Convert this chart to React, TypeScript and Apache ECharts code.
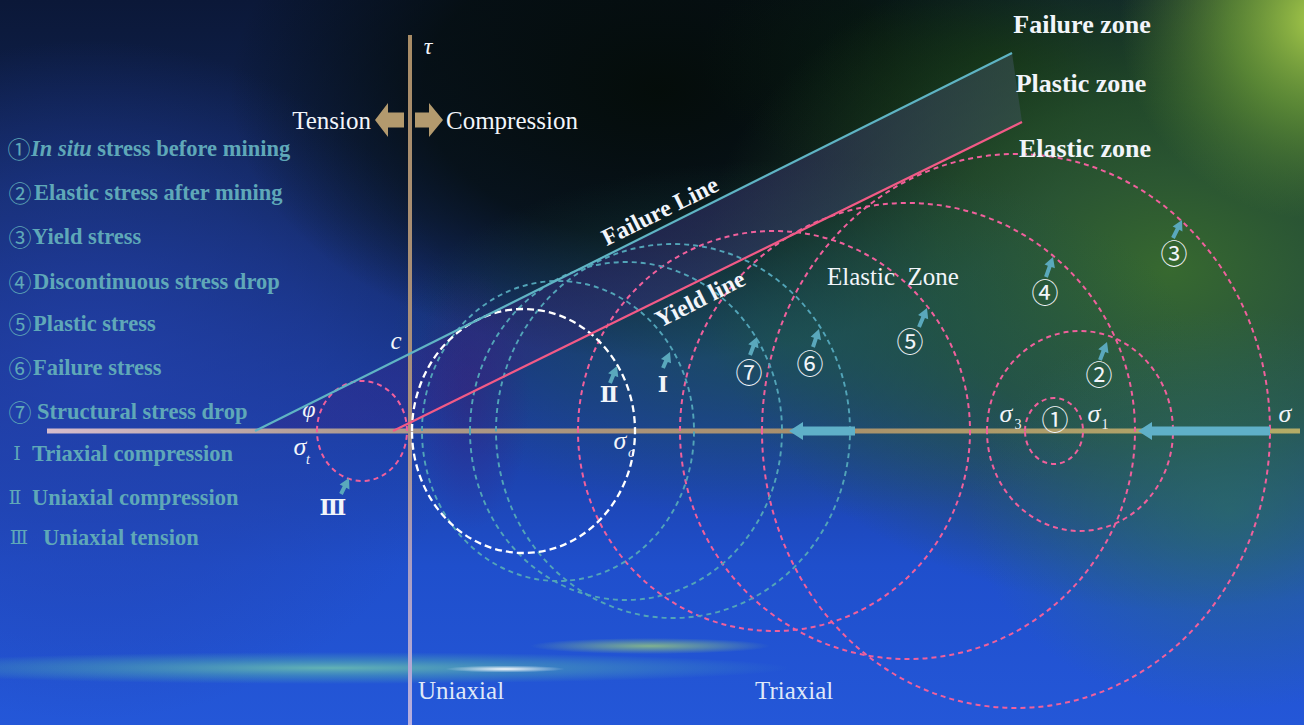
import React, { useEffect, useRef } from "react";
import * as echarts from "echarts";

// ---------------- data (drawing units: σ to the right, τ upwards, origin at the axes' crossing) -------------
const circleLabels = ["①", "②", "③", "④", "⑤", "⑥", "⑦", "Ⅰ", "Ⅱ", "Ⅲ"];
const circleCentres = [644, 670, 606, 497.5, 364, 263, 216, 148, 113.5, -48];
const circleRadiusSigma = [29, 93, 254, 227.5, 196, 177, 156, 136, 111.5, 45];
const circleRadiusTau = [33, 100, 277, 228, 200, 187, 169, 150, 122, 50];
const circleKinds = ["pink", "pink", "pink", "pink", "pink", "teal", "teal", "teal", "white", "pink"];

const failureLine = [[-155, 0], [602, 378]];
const yieldLine = [[-17, 0], [612, 309]];
const sigmaAxisLine = [[-363, 0], [890, 0]];
const tauAxisLine = [[0, 396], [0, -294]];
// [tail σ, head σ]
const stressDropArrows = [[445, 379], [860, 728]];

const legendMarks = ["①", "②", "③", "④", "⑤", "⑥", "⑦", "Ⅰ", "Ⅱ", "Ⅲ"];
const legendItalic = ["In situ", "", "", "", "", "", "", "", "", ""];
const legendTexts = [
  " stress before mining",
  "Elastic stress after mining",
  "Yield stress",
  "Discontinuous stress drop",
  "Plastic stress",
  "Failure stress",
  "Structural stress drop",
  "Triaxial compression",
  "Uniaxial compression",
  "Uniaxial tension",
];

const zoneLabels = ["Failure zone", "Plastic zone", "Elastic zone"];

// ---------------- styles ----------------
const SERIF = "'Liberation Serif', 'Times New Roman', serif";
const CJK = "'Noto Sans CJK SC', 'DejaVu Sans', sans-serif";
const ROMAN = "'DejaVu Serif', 'Noto Serif CJK SC', 'Noto Sans CJK SC', serif";
const circleStyles: Record<string, any> = {
  pink: { stroke: "#f0609c", lineWidth: 2, lineDash: [5, 4] },
  teal: { stroke: "#52a4b8", lineWidth: 1.9, lineDash: [5, 4] },
  white: { stroke: "#ffffff", lineWidth: 2.3, lineDash: [7, 4] },
};
const W = 1304;
const H = 725;

let measureCtx: CanvasRenderingContext2D | null = null;
function measure(text: string, font: string) {
  if (!measureCtx) measureCtx = document.createElement("canvas").getContext("2d");
  if (!measureCtx) return text.length * 10;
  measureCtx.font = font;
  return measureCtx.measureText(text).width;
}

function blockArrow(x1: number, y1: number, x2: number, y2: number, shaft: number, head: number, headLen: number) {
  const dx = x2 - x1, dy = y2 - y1;
  const L = Math.hypot(dx, dy);
  const ux = dx / L, uy = dy / L;
  const px = -uy, py = ux;
  const bx = x2 - ux * headLen, by = y2 - uy * headLen;
  return [
    [x1 + (px * shaft) / 2, y1 + (py * shaft) / 2],
    [bx + (px * shaft) / 2, by + (py * shaft) / 2],
    [bx + (px * head) / 2, by + (py * head) / 2],
    [x2, y2],
    [bx - (px * head) / 2, by - (py * head) / 2],
    [bx - (px * shaft) / 2, by - (py * shaft) / 2],
    [x1 - (px * shaft) / 2, y1 - (py * shaft) / 2],
  ];
}

const rg = (stops: [number, string][]) =>
  new echarts.graphic.RadialGradient(0.5, 0.5, 0.5, stops.map(([offset, color]) => ({ offset, color })));

function blob(cx: number, cy: number, rx: number, ry: number, stops: [number, string][], z = -90) {
  return { type: "ellipse", z, silent: true, shape: { cx, cy, rx, ry }, style: { fill: rg(stops) } };
}

function txt(x: number, y: number, text: string, o: any = {}) {
  return {
    type: "text",
    z: 100,
    x,
    y,
    rotation: o.rotation || 0,
    silent: true,
    style: {
      text,
      fill: o.color || "#f2f5fa",
      fontSize: o.size || 25,
      fontFamily: o.family || SERIF,
      fontWeight: o.weight || "normal",
      fontStyle: o.style || "normal",
      align: o.align || "center",
      verticalAlign: o.valign || "middle",
    },
  };
}

function buildOption() {
  const background = [
    {
      type: "rect",
      z: -100,
      silent: true,
      shape: { x: 0, y: 0, width: W, height: H },
      style: {
        fill: new echarts.graphic.LinearGradient(0, 0, 0, 1, [
          { offset: 0, color: "#0b1838" },
          { offset: 0.3, color: "#12275c" },
          { offset: 0.55, color: "#1a3a98" },
          { offset: 0.78, color: "#1f4fcc" },
          { offset: 1, color: "#2457d8" },
        ]),
      },
    },
    blob(90, 380, 380, 340, [[0, "rgba(36,66,175,0.75)"], [0.6, "rgba(36,66,175,0.4)"], [1, "rgba(36,66,175,0)"]]),
    blob(660, 90, 430, 270, [[0, "rgba(4,12,8,0.97)"], [0.55, "rgba(4,12,8,0.75)"], [1, "rgba(4,12,8,0)"]]),
    blob(1000, 60, 300, 140, [[0, "rgba(10,35,12,0.8)"], [1, "rgba(10,35,12,0)"]]),
    blob(1170, 270, 470, 340, [[0, "rgba(58,110,42,0.92)"], [0.5, "rgba(44,92,38,0.68)"], [1, "rgba(40,85,35,0)"]]),
    blob(1320, 20, 200, 200, [[0, "rgba(170,205,75,1)"], [0.45, "rgba(120,170,55,0.65)"], [1, "rgba(90,140,45,0)"]]),
    blob(790, 340, 400, 180, [[0, "rgba(30,90,72,0.65)"], [1, "rgba(30,90,72,0)"]]),
    blob(1230, 510, 260, 200, [[0, "rgba(45,115,100,0.6)"], [1, "rgba(45,115,100,0)"]]),
    blob(470, 400, 60, 130, [[0, "rgba(60,30,120,0.45)"], [1, "rgba(60,30,120,0)"]]),
    blob(330, 668, 460, 16, [[0, "rgba(120,210,170,0.75)"], [0.5, "rgba(90,190,170,0.4)"], [1, "rgba(90,190,170,0)"]]),
    blob(650, 646, 120, 8, [[0, "rgba(160,210,120,0.75)"], [1, "rgba(160,210,120,0)"]]),
    blob(505, 669, 60, 3.5, [[0, "rgba(255,255,255,0.95)"], [1, "rgba(255,255,255,0)"]]),
  ];

  const legendColor = "#5fa8b8";
  const legendY = [148, 192, 236, 281, 323, 367, 411, 453, 497, 537];
  const markX = [19, 20, 20, 20, 20, 20, 20, 17, 15, 19];
  const textX = [31, 34, 32, 33, 33, 33, 37, 32, 32, 43];
  const legend: any[] = [];
  legendTexts.forEach((t, i) => {
    legend.push(
      txt(markX[i], legendY[i], legendMarks[i], {
        family: i < 7 ? CJK : ROMAN,
        size: i < 7 ? 23 : 19,
        color: legendColor,
      })
    );
    let x = textX[i];
    if (legendItalic[i]) {
      legend.push(txt(x, legendY[i], legendItalic[i], { align: "left", size: 22.5, weight: "bold", style: "italic", color: legendColor }));
      x += measure(legendItalic[i], "italic bold 22.5px 'Liberation Serif'");
    }
    legend.push(txt(x, legendY[i], t, { align: "left", size: 22.5, weight: "bold", color: legendColor }));
  });

  const tan = "#b39a6e";
  const arrows = [
    { type: "polygon", z: 50, silent: true, shape: { points: blockArrow(404, 120, 375, 120, 15, 34, 13) }, style: { fill: tan } },
    { type: "polygon", z: 50, silent: true, shape: { points: blockArrow(415, 120, 443, 120, 15, 34, 14) }, style: { fill: tan } },
  ];
  const pointerPairs = [
    [341, 494, 349, 478],
    [610, 383, 617, 366],
    [663, 368, 670, 352],
    [750, 355, 757, 337],
    [813, 347, 819, 329],
    [919, 327, 927, 308],
    [1046, 277, 1053, 257],
    [1173, 238, 1182, 220],
    [1100, 360, 1107, 342],
  ];
  const pointers = pointerPairs.map((p) => ({
    type: "polygon",
    z: 60,
    silent: true,
    shape: { points: blockArrow(p[0], p[1], p[2], p[3], 4, 11, 10) },
    style: { fill: "#5aa8bc" },
  }));

  const numberPos: [string, number, number][] = [
    ["⑦", 749, 371],
    ["⑥", 810, 362],
    ["⑤", 910, 340],
    ["④", 1045, 291],
    ["③", 1174, 252],
    ["②", 1099, 373],
    ["①", 1055, 418],
  ];
  const numbers = numberPos.map(([t, x, y]) => txt(x, y, t, { family: CJK, size: 27 }));
  const romans = [
    txt(609, 394, "Ⅱ", { family: ROMAN, size: 22, weight: "bold" }),
    txt(663, 384, "Ⅰ", { family: ROMAN, size: 22, weight: "bold" }),
    txt(333, 507, "Ⅲ", { family: ROMAN, size: 22, weight: "bold" }),
  ];

  const it = { style: "italic", size: 26 };
  const labels = [
    txt(428, 46, "τ", { style: "italic", size: 24 }),
    txt(371, 120, "Tension", { align: "right", size: 25 }),
    txt(446, 120, "Compression", { align: "left", size: 25 }),
    txt(396, 340, "c", { style: "italic", size: 25 }),
    txt(309, 409, "φ", { style: "italic", size: 24 }),
    txt(300, 446, "σ", it),
    txt(308, 459, "t", { style: "italic", size: 14 }),
    txt(620, 440, "σ", it),
    txt(631, 452, "c", { style: "italic", size: 14 }),
    txt(1006, 413, "σ", it),
    txt(1018, 424, "3", { size: 14 }),
    txt(1094, 413, "σ", it),
    txt(1105, 424, "1", { size: 14 }),
    txt(1285, 413, "σ", it),
    txt(893, 276, "Elastic  Zone", { size: 25 }),
    txt(1082, 24, zoneLabels[0], { size: 26, weight: "bold" }),
    txt(1081, 83, zoneLabels[1], { size: 26, weight: "bold" }),
    txt(1085, 148, zoneLabels[2], { size: 26, weight: "bold" }),
    txt(660, 211, "Failure Line", { size: 24, weight: "bold", rotation: 0.46 }),
    txt(700, 299, "Yield line", { size: 24, weight: "bold", rotation: 0.47 }),
    txt(418, 690, "Uniaxial", { align: "left", size: 25, color: "#dfe8f8" }),
    txt(755, 690, "Triaxial", { align: "left", size: 25, color: "#dfe8f8" }),
  ];

  const circleData = circleCentres.map((c, i) => [c, circleRadiusSigma[i], circleRadiusTau[i]]);

  return {
    animation: false,
    backgroundColor: "#0b1733",
    grid: { left: 0, right: 0, top: 0, bottom: 0, containLabel: false },
    xAxis: { type: "value", min: -410, max: 894, show: false },
    yAxis: { type: "value", min: -294, max: 431, show: false },
    graphic: { elements: [...background, ...legend, ...arrows, ...pointers, ...numbers, ...romans, ...labels] },
    series: [
      {
        type: "custom",
        name: "plastic band",
        z: 1,
        silent: true,
        data: [[0]],
        renderItem: (_p: any, api: any) => {
          const pts = [failureLine[0], failureLine[1], yieldLine[1], yieldLine[0]].map((d) => api.coord(d));
          return {
            type: "polygon",
            shape: { points: pts },
            style: {
              fill: new echarts.graphic.LinearGradient(
                410, 0, 1020, 0,
                [
                  { offset: 0, color: "rgba(55,35,130,0.35)" },
                  { offset: 0.35, color: "rgba(55,42,125,0.45)" },
                  { offset: 1, color: "rgba(58,80,84,0.6)" },
                ],
                true
              ),
            },
          };
        },
      },
      {
        type: "line",
        name: "σ axis",
        z: 2,
        silent: true,
        symbol: "none",
        data: sigmaAxisLine,
        lineStyle: {
          width: 5,
          color: new echarts.graphic.LinearGradient(
            47, 0, 1300, 0,
            [
              { offset: 0, color: "#d6bccd" },
              { offset: 0.25, color: "#ad9a8e" },
              { offset: 0.6, color: "#a88f6c" },
              { offset: 1, color: "#b4ac66" },
            ],
            true
          ),
        },
      },
      {
        type: "line",
        name: "τ axis",
        z: 2,
        silent: true,
        symbol: "none",
        data: tauAxisLine,
        lineStyle: {
          width: 4,
          color: new echarts.graphic.LinearGradient(
            0, 35, 0, 725,
            [
              { offset: 0, color: "#a88c66" },
              { offset: 0.55, color: "#a89080" },
              { offset: 0.75, color: "#a89cc0" },
              { offset: 1, color: "#b6aee0" },
            ],
            true
          ),
        },
      },
      {
        type: "custom",
        name: "Mohr circles",
        z: 3,
        silent: true,
        data: circleData,
        renderItem: (p: any, api: any) => {
          const c = api.coord([api.value(0), 0]);
          const e = api.coord([api.value(0) + api.value(1), api.value(2)]);
          const st = circleStyles[circleKinds[p.dataIndex]];
          return {
            type: "ellipse",
            shape: { cx: c[0], cy: c[1], rx: Math.abs(e[0] - c[0]), ry: Math.abs(c[1] - e[1]) },
            style: { fill: "none", stroke: st.stroke, lineWidth: st.lineWidth, lineDash: st.lineDash },
          };
        },
      },
      {
        type: "line",
        name: "Failure Line",
        z: 4,
        silent: true,
        symbol: "none",
        data: failureLine,
        lineStyle: { width: 2.2, color: "#5fb4c4" },
      },
      {
        type: "line",
        name: "Yield line",
        z: 4,
        silent: true,
        symbol: "none",
        data: yieldLine,
        lineStyle: { width: 2.2, color: "#f25a86" },
      },
      {
        type: "custom",
        name: "stress drop",
        z: 5,
        silent: true,
        data: stressDropArrows,
        renderItem: (_p: any, api: any) => {
          const t = api.coord([api.value(0), 0]);
          const h = api.coord([api.value(1), 0]);
          return {
            type: "polygon",
            shape: { points: blockArrow(t[0], t[1], h[0], h[1], 9, 18, 14) },
            style: { fill: "#5fb0c8" },
          };
        },
      },
    ],
  };
}

export default function App() {
  const ref = useRef<HTMLDivElement>(null);
  useEffect(() => {
    if (!ref.current) return;
    const chart = echarts.init(ref.current, null, { renderer: "svg" });
    chart.setOption(buildOption() as any);
    return () => chart.dispose();
  }, []);
  return <div ref={ref} style={{ position: "fixed", left: 0, top: 0, width: W, height: H }} />;
}
